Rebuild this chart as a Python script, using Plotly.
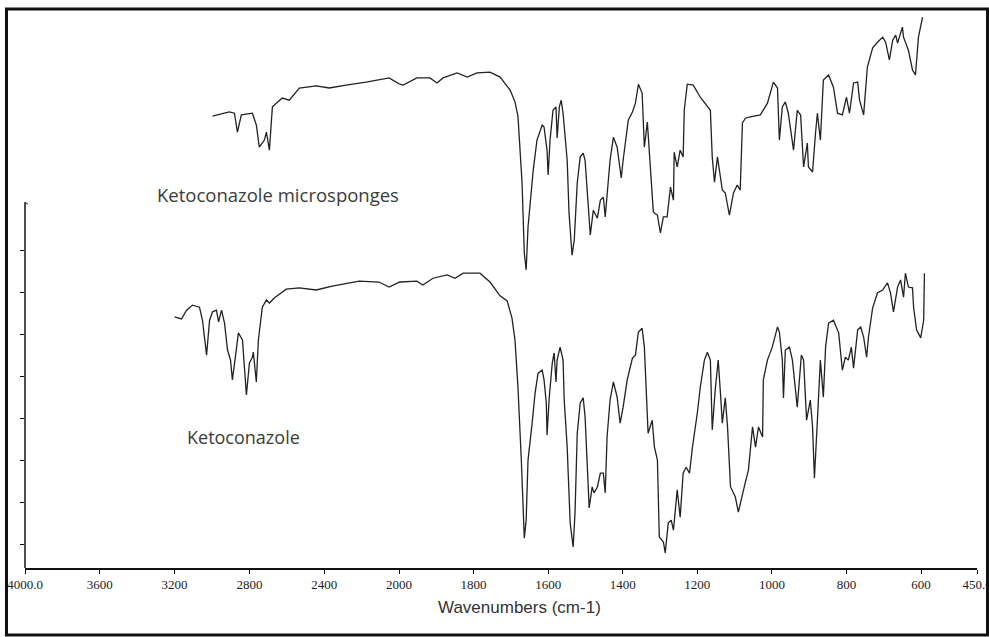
import plotly.graph_objects as go

# ---- data: wavenumber (cm-1) and transmittance (arb. units)
micro_wn = [2997, 2907, 2880, 2864, 2843, 2784, 2763, 2747, 2720, 2709, 2693, 2677, 2656, 2624, 2587,
            2533, 2443, 2373, 2283, 2176, 2053, 1989, 1952, 1917, 1898, 1882, 1844, 1817, 1791, 1756,
            1729, 1702, 1689, 1681, 1670, 1664, 1659, 1654, 1646, 1640, 1630, 1616, 1611, 1603, 1600,
            1595, 1587, 1579, 1576, 1570, 1565, 1560, 1549, 1544, 1536, 1530, 1522, 1514, 1506, 1501,
            1493, 1487, 1479, 1468, 1460, 1452, 1447, 1442, 1434, 1425, 1415, 1404, 1399, 1385, 1374,
            1366, 1358, 1348, 1342, 1334, 1326, 1318, 1307, 1299, 1291, 1281, 1272, 1264, 1262, 1254,
            1246, 1238, 1235, 1227, 1211, 1192, 1165, 1160, 1154, 1146, 1133, 1125, 1114, 1103, 1093,
            1085, 1079, 1071, 1058, 1031, 1012, 996, 985, 980, 972, 964, 956, 942, 932, 923,
            915, 905, 902, 891, 883, 878, 870, 862, 848, 835, 824, 811, 800, 792, 781,
            770, 765, 754, 744, 730, 717, 703, 695, 685, 676, 668, 663, 650, 647, 634,
            623, 615, 607, 596]
micro_t = [107.6, 108.6, 108.3, 103.8, 107.9, 108.3, 105.5, 100.2, 101.9, 103.8, 99.5, 109.8, 110.7, 111.9, 111.4,
           114.3, 114.8, 114.3, 115.0, 115.7, 116.7, 115.0, 116.7, 116.7, 115.5, 116.7, 117.9, 116.9, 117.9, 118.1,
           116.9, 113.8, 111.0, 107.6, 91.7, 75.0, 71.0, 81.2, 90.0, 94.8, 101.9, 105.5, 105.0, 99.5, 93.6,
           101.9, 109.0, 109.8, 102.4, 109.8, 111.4, 108.3, 97.1, 84.5, 74.5, 78.1, 91.7, 97.9, 98.8, 97.1,
           86.9, 79.3, 85.2, 83.3, 87.6, 88.3, 83.6, 89.3, 97.1, 102.6, 100.2, 92.9, 97.1, 106.7, 108.6,
           110.7, 115.2, 113.1, 100.2, 106.2, 96.4, 84.8, 84.0, 79.8, 83.6, 83.6, 90.7, 87.6, 99.0, 95.5,
           99.5, 97.9, 109.0, 115.2, 115.0, 112.1, 109.0, 97.9, 91.9, 97.9, 90.0, 89.3, 84.0, 89.3, 91.2,
           90.0, 106.0, 107.1, 107.4, 107.9, 110.7, 115.7, 114.3, 101.9, 109.8, 111.0, 108.3, 99.5, 109.0, 107.9,
           95.5, 101.2, 95.5, 94.3, 103.6, 108.3, 101.9, 116.2, 117.4, 114.5, 108.3, 107.9, 112.1, 108.3, 115.5,
           115.7, 111.4, 107.9, 119.3, 123.8, 125.2, 126.4, 125.2, 121.0, 125.7, 126.9, 125.0, 128.8, 126.4, 123.3,
           118.6, 117.4, 126.4, 131.2]

keto_wn = [3200, 3163, 3136, 3104, 3067, 3051, 3029, 3013, 2997, 2976, 2965, 2949, 2933, 2917, 2901,
           2891, 2875, 2859, 2837, 2827, 2816, 2800, 2784, 2779, 2763, 2752, 2731, 2709, 2693, 2667,
           2603, 2533, 2443, 2357, 2213, 2107, 2053, 1997, 1952, 1936, 1909, 1871, 1850, 1828, 1783,
           1756, 1729, 1710, 1697, 1689, 1681, 1672, 1667, 1664, 1659, 1654, 1643, 1635, 1627, 1616,
           1611, 1605, 1603, 1597, 1589, 1584, 1579, 1576, 1568, 1560, 1557, 1549, 1541, 1533, 1528,
           1522, 1514, 1506, 1501, 1495, 1490, 1482, 1477, 1468, 1460, 1452, 1447, 1442, 1434, 1425,
           1415, 1407, 1399, 1388, 1374, 1366, 1358, 1348, 1342, 1332, 1321, 1315, 1307, 1302, 1291,
           1286, 1278, 1270, 1264, 1254, 1246, 1238, 1230, 1221, 1213, 1200, 1192, 1181, 1173, 1165,
           1160, 1152, 1144, 1138, 1133, 1125, 1119, 1111, 1098, 1090, 1079, 1071, 1063, 1052, 1044,
           1036, 1025, 1023, 1012, 999, 985, 980, 972, 969, 964, 953, 945, 932, 921, 915,
           907, 897, 891, 886, 878, 870, 862, 856, 848, 835, 821, 811, 803, 795, 787,
           781, 770, 762, 754, 746, 741, 730, 717, 703, 690, 682, 674, 663, 655, 647,
           642, 634, 623, 620, 612, 601, 593, 591]
keto_t = [59.8, 59.3, 61.4, 62.6, 62.1, 59.0, 50.7, 59.0, 61.0, 61.4, 58.6, 61.4, 58.3, 51.9, 49.5,
          44.8, 50.2, 56.0, 54.3, 47.9, 41.2, 48.8, 50.2, 51.4, 44.3, 54.3, 62.1, 63.8, 63.1, 64.3,
          66.4, 66.7, 66.2, 67.1, 68.3, 68.1, 66.9, 68.1, 68.3, 67.4, 69.0, 69.8, 69.0, 70.2, 70.2,
          68.1, 64.8, 63.6, 59.5, 54.3, 43.1, 25.7, 11.4, 7.1, 11.4, 25.7, 34.5, 41.7, 46.4, 47.1,
          44.8, 39.3, 31.7, 40.7, 48.8, 51.2, 44.3, 49.5, 52.6, 49.5, 40.0, 28.8, 10.7, 5.0, 13.1,
          32.1, 39.3, 40.5, 36.0, 23.3, 14.3, 19.3, 17.9, 19.3, 22.6, 22.6, 17.9, 31.2, 40.0, 44.3,
          40.7, 34.5, 38.3, 44.8, 50.0, 50.7, 56.2, 57.1, 52.6, 32.1, 35.2, 28.8, 25.7, 7.4, 6.2,
          3.6, 10.7, 11.4, 9.0, 18.6, 12.1, 22.6, 24.0, 22.6, 28.8, 36.9, 43.1, 49.5, 51.4, 49.5,
          32.9, 42.4, 49.5, 41.7, 34.5, 40.5, 33.6, 19.3, 16.9, 13.3, 17.9, 20.5, 23.3, 33.6, 28.8,
          33.6, 31.2, 44.8, 49.5, 52.6, 57.4, 56.2, 49.5, 40.5, 51.9, 52.6, 49.5, 38.3, 50.7, 49.5,
          35.2, 40.0, 33.6, 21.4, 35.2, 49.5, 40.7, 52.6, 58.3, 59.0, 56.0, 47.1, 50.2, 49.5, 52.6,
          47.6, 56.7, 57.4, 55.0, 50.2, 55.0, 61.9, 65.5, 66.2, 67.9, 65.5, 61.0, 66.9, 68.6, 64.5,
          70.2, 66.9, 66.7, 62.1, 56.7, 54.8, 59.0, 70.2]

x_hi_ticks = [4000, 3600, 3200, 2800, 2400, 2000]
x_hi_text = ["4000.0", "3600", "3200", "2800", "2400", "2000"]
x_lo_ticks = [1800, 1600, 1400, 1200, 1000, 800, 600, 450]
x_lo_text = ["1800", "1600", "1400", "1200", "1000", "800", "600", "450.0"]
y_ticks = [5.6, 15.6, 25.6, 35.6, 45.6, 55.6, 65.6, 75.6]
y_axis_top = 87.1
y_max = 132.4

W, H = 989, 637
ML, MR, MT, MB = 25, 12, 12, 69
PW, PH = W - ML - MR, H - MT - MB
split = (399 - 25) / PW  # domain split at 2000 cm-1 (scale expands below 2000)

def px(p):
    return (p - ML) / PW

def py(p):
    return (H - MB - p) / PH

line = dict(color="#222222", width=1.3)
fig = go.Figure()
for wn, t in [(micro_wn, micro_t), (keto_wn, keto_t)]:
    for xa in ["x", "x2"]:
        fig.add_trace(go.Scatter(x=wn, y=t, mode="lines", line=line, xaxis=xa, yaxis="y",
                                 showlegend=False, hoverinfo="skip"))

tickfont = dict(family="Liberation Serif", size=13, color="#222222")
common_x = dict(anchor="y", showgrid=False, zeroline=False, automargin=False,
                ticklabeloverflow="allow",
                showline=True, linecolor="#111111", linewidth=1.5, ticks="outside", ticklen=4,
                tickcolor="#111111", tickfont=tickfont)
fig.update_layout(
    width=W, height=H,
    margin=dict(l=ML, r=MR, t=MT, b=MB, autoexpand=False),
    paper_bgcolor="white", plot_bgcolor="white",
    xaxis=dict(domain=[0, split], range=[4000, 2000], tickvals=x_hi_ticks, ticktext=x_hi_text,
               **common_x),
    xaxis2=dict(domain=[split, 1], range=[2000, 450], tickvals=x_lo_ticks, ticktext=x_lo_text,
                **common_x),
    yaxis=dict(range=[0, y_max], showgrid=False, zeroline=False, showline=False, automargin=False,
               ticks="outside", ticklen=4, tickcolor="#111111", tickvals=y_ticks,
               showticklabels=False),
    shapes=[
        dict(type="line", xref="paper", yref="y", x0=0, x1=0, y0=0, y1=y_axis_top,
             line=dict(color="#111111", width=1.5)),
        dict(type="line", xref="paper", yref="y", x0=0, x1=px(28), y0=y_axis_top, y1=y_axis_top - 0.5,
             line=dict(color="#111111", width=1)),
        dict(type="rect", xref="paper", yref="paper", x0=px(6.5), x1=px(987.5), y0=py(635), y1=py(9),
             line=dict(color="#111111", width=3)),
    ],
    annotations=[
        dict(text="Wavenumbers (cm-1)", xref="paper", yref="paper", x=px(519), y=py(607),
             xanchor="center", yanchor="middle",
             showarrow=False, font=dict(family="Liberation Sans", size=17, color="#333333")),
        dict(text="Ketoconazole microsponges", xref="paper", yref="paper", x=px(155), y=py(195),
             xanchor="left", yanchor="middle",
             showarrow=False, font=dict(family="Open Sans", size=18.5, color="#3a3d38")),
        dict(text="Ketoconazole", xref="paper", yref="paper", x=px(185), y=py(437),
             xanchor="left", yanchor="middle",
             showarrow=False, font=dict(family="Open Sans", size=18, color="#3a3d38")),
    ],
)

fig.write_html("out.html")
